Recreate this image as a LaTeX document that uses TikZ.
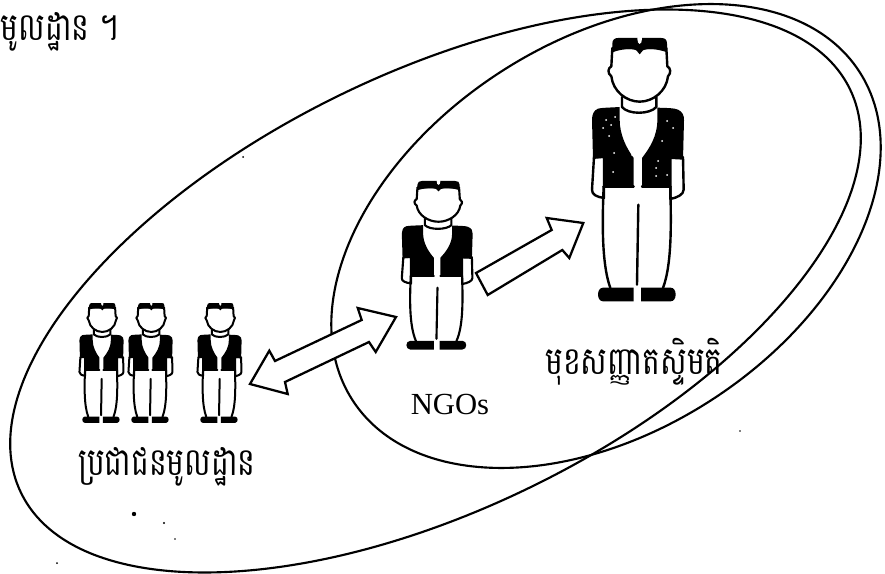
\documentclass[tikz,border=0pt]{standalone}
\usepackage{fontspec}
\setmainfont{Liberation Serif}
\newfontfamily\khmerfont[Script=Khmer]{Battambang}
\tikzset{
  loop/.style={draw=black,line width=1.6pt,fill=none},
  blockarrow/.style={draw=black,line width=1.7pt,fill=white,line join=miter},
  khmerlabel/.style={inner sep=0pt,anchor=center,text=black,xscale=0.77},
  latinlabel/.style={inner sep=0pt,anchor=center,text=black},
  speck/.style={fill=black,draw=none}
}
\newcommand{\person}[5]{%
\begin{scope}[shift={(#1,#2)},xscale=#3/3,yscale=#4/3,shift={(-238,-55)},line width=#5,line join=round,line cap=round]
  % arms
  \draw[fill=white] (103,412) -- (97,510) .. controls (96,525) and (112,532) .. (133,535) -- (133,412) -- cycle;
  \draw[fill=white] (370,412) -- (372,510) .. controls (372,525) and (352,534) .. (332,538) -- (332,412) -- cycle;
  % neck
  \draw[fill=white] (187,232) -- (187,262) .. controls (205,285) and (270,285) .. (290,262) -- (290,232);
  % vest
  \fill (180,262) .. controls (150,264) and (125,264) .. (115,267) .. controls (102,272) and (97,285) .. (97,300)
    -- (100,418) -- (132,415) -- (132,500) -- (222,500) -- (222,415) .. controls (200,385) and (180,345) .. (180,300) -- cycle;
  \fill (293,264) .. controls (320,265) and (345,265) .. (355,270) .. controls (368,276) and (374,288) .. (373,302)
    -- (370,420) -- (333,418) -- (332,500) -- (247,500) -- (247,415) .. controls (270,385) and (293,350) .. (293,300) -- cycle;
  % legs
  \draw (132,500) .. controls (128,600) and (125,730) .. (152,805);
  \draw (332,500) .. controls (334,600) and (338,730) .. (310,805);
  \draw (236,555) -- (232,795);
  \draw (132,500) -- (222,500) (247,500) -- (332,500);
  % shoes
  \fill (130,804) -- (222,804) -- (222,845) -- (130,845) .. controls (110,845) and (110,804) .. (130,804) -- cycle;
  \fill (244,804) -- (333,804) .. controls (353,804) and (353,845) .. (333,845) -- (244,845) -- cycle;
  % head
  \draw[fill=white] (158,85) -- (155,140) .. controls (145,145) and (142,160) .. (155,170)
    .. controls (160,215) and (200,246) .. (240,246) .. controls (280,246) and (320,215) .. (325,170)
    .. controls (335,160) and (333,145) .. (323,140) -- (320,85) -- cycle;
  % hair
  \fill (158,98) -- (158,72) .. controls (158,60) and (165,55) .. (175,55) -- (305,55)
    .. controls (316,55) and (322,60) .. (322,72) -- (322,98) .. controls (295,88) and (265,85) .. (250,92)
    -- (240,104) -- (230,92) .. controls (215,85) and (185,88) .. (158,98) -- cycle;
  \fill[white] (240,57) ellipse [x radius=7,y radius=16];
\end{scope}}
\begin{document}
\begin{tikzpicture}[x=0.75pt,y=-0.75pt]
  \clip (0,0) rectangle (885,574);
  \fill[white] (0,0) rectangle (885,574);
  % ellipses
  \draw[loop] (435.5,291) ellipse [x radius=461,y radius=218,rotate=26];
  \draw[loop] (606,236) ellipse [x radius=302,y radius=195,rotate=33];
  % people
  \person{102}{303}{0.48}{0.455}{1.5pt}
  \person{151}{303}{0.48}{0.455}{1.5pt}
  \person{220}{303}{0.48}{0.455}{1.5pt}
  \person{438}{181}{0.77}{0.64}{1.6pt}
  \person{639}{38}{1}{1}{1.8pt}
  % white flecks on the large vest
  \foreach \p/\q in {606/120,611/125,603/128,609/136,615/117,614/153,613/172,667/121,673/128,662/141,658/161,656/168,667/175,632/155,656/176}
    \fill[white] (\p,\q) circle [radius=1];
  % block arrows
  \draw[blockarrow] (396,317) -- (357.7,308) -- (361.7,320) -- (275,361) -- (269.3,350.7) -- (250,384)
    -- (287.7,394) -- (285,382) -- (369,342) -- (375.7,352) -- cycle;
  \draw[blockarrow] (583.3,223) -- (546.7,218) -- (551.7,230) -- (476,273) -- (487.7,295)
    -- (562.3,250) -- (569.3,258) -- cycle;
  % labels
  \node[khmerlabel] (title) at (60,32) {\khmerfont\fontsize{29}{33}\selectfont មូលដ្ឋាន ។};
  \node[khmerlabel] (base) at (167,467) {\khmerfont\fontsize{29}{33}\selectfont ប្រជាជនមូលដ្ឋាន};
  \node[latinlabel] (ngos) at (450,404) {\fontsize{23}{27}\selectfont NGOs};
  \node[khmerlabel] (elite) at (634,362) {\khmerfont\fontsize{29}{33}\selectfont មុខសញ្ញាតស្ទិមតិ};
  % scan specks
  \fill[speck] (134,514) circle [radius=2.2];
  \fill[speck] (164,523) circle [radius=1.2];
  \fill[speck] (175,539) circle [radius=0.8];
  \fill[speck] (57,563) circle [radius=1];
  \fill[speck] (243,157) circle [radius=1];
  \fill[speck] (740,431) circle [radius=0.8];
\end{tikzpicture}
\end{document}
